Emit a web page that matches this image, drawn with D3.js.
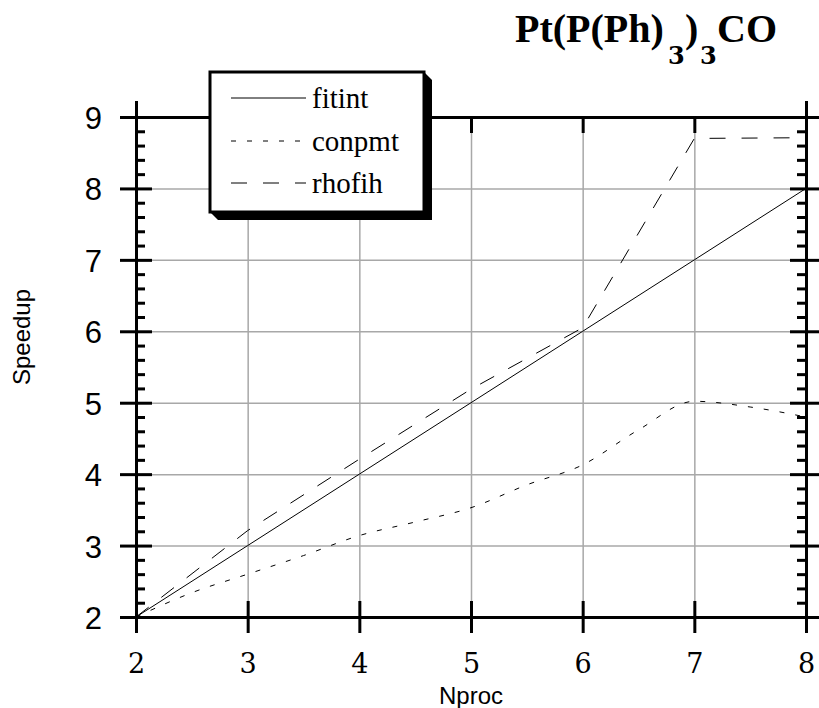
<!DOCTYPE html>
<html><head><meta charset="utf-8">
<script src="https://cdn.jsdelivr.net/npm/d3@7"></script>
<style>body{margin:0;background:#fff} .serif{font-family:"Liberation Serif","Times New Roman",serif} .dserif{font-family:"DejaVu Serif",serif} .sans{font-family:"Liberation Sans",Arial,sans-serif}</style>
</head><body><svg id="c" width="819" height="708"></svg>
<script>
// ---- data ----
const nproc = [2, 3, 4, 5, 6, 7, 8];
const fitint = [2, 3, 4, 5, 6, 7, 8];
const rhofih = [2.0, 3.21, 4.21, 5.19, 6.05, 8.70, 8.71];
const conpmtX = [2, 2.5, 3, 3.5, 4, 4.5, 5, 5.5, 6, 6.5, 7, 7.5, 8];
const conpmt = [2.0, 2.34, 2.60, 2.86, 3.14, 3.33, 3.53, 3.85, 4.13, 4.62, 5.02, 4.94, 4.80];
const xTicks = [2, 3, 4, 5, 6, 7, 8];
const yTicks = [2, 3, 4, 5, 6, 7, 8, 9];
const seriesNames = ["fitint", "conpmt", "rhofih"];

// ---- layout ----
const L = 136, R = 806, T = 117, B = 617;
const svg = d3.select("#c");
svg.append("rect").attr("width", 819).attr("height", 708).attr("fill", "#fff");
const x = d3.scaleLinear().domain([2, 8]).range([L, R]);
const y = d3.scaleLinear().domain([2, 9]).range([B, T]);
const minorY = d3.range(2, 9.001, 0.2).map(v => +v.toFixed(1)).filter(v => Math.abs(v - Math.round(v)) > 1e-6);
const fmt = d3.format("d");

// grid
svg.append("g").attr("transform", `translate(0,${B})`)
  .call(d3.axisBottom(x).tickValues(xTicks.slice(1, -1)).tickSize(-(B - T)).tickFormat(""))
  .call(g => g.select(".domain").remove())
  .selectAll("line").attr("stroke", "#a8a8a8").attr("stroke-width", 1.5);
svg.append("g").attr("transform", `translate(${L},0)`)
  .call(d3.axisLeft(y).tickValues(yTicks.slice(1, -1)).tickSize(-(R - L)).tickFormat(""))
  .call(g => g.select(".domain").remove())
  .selectAll("line").attr("stroke", "#a8a8a8").attr("stroke-width", 1.5);

// series lines
svg.append("path").datum(d3.zip(nproc, fitint))
  .attr("d", d3.line().x(d => x(d[0])).y(d => y(d[1])))
  .attr("fill", "none").attr("stroke", "#000").attr("stroke-width", 1);
svg.append("path").datum(d3.zip(conpmtX, conpmt))
  .attr("d", d3.line().x(d => x(d[0])).y(d => y(d[1])).curve(d3.curveMonotoneX))
  .attr("fill", "none").attr("stroke", "#000").attr("stroke-width", 1).attr("stroke-dasharray", "5,11");
svg.append("path").datum(d3.zip(nproc, rhofih))
  .attr("d", d3.line().x(d => x(d[0])).y(d => y(d[1])))
  .attr("fill", "none").attr("stroke", "#000").attr("stroke-width", 1).attr("stroke-dasharray", "16,16");

// axes
function styleAxis(g) {
  g.select(".domain").attr("stroke", "#000").attr("stroke-width", 3);
  g.selectAll(".tick line").attr("stroke", "#000").attr("stroke-width", 3);
}
// left
const gl = svg.append("g").attr("transform", `translate(${L},0)`)
  .call(d3.axisLeft(y).tickValues(yTicks).tickFormat(fmt).tickSizeOuter(0).tickSize(16).tickPadding(18))
  .call(styleAxis);
gl.attr("font-family", null).attr("font-size", null);
gl.selectAll(".tick line").attr("x1", -16).attr("x2", 16);
gl.selectAll(".tick text").attr("class", "sans").style("font-size", "31px")
  .attr("fill", "#000").attr("dy", "0.37em");
svg.append("g").attr("transform", `translate(${L},0)`)
  .call(d3.axisLeft(y).tickValues(minorY).tickSizeOuter(0).tickSize(-9).tickFormat(""))
  .call(styleAxis).call(g => g.select(".domain").remove());
// right
const gr = svg.append("g").attr("transform", `translate(${R},0)`)
  .call(d3.axisRight(y).tickValues(yTicks).tickSizeOuter(0).tickSize(16).tickFormat(""))
  .call(styleAxis);
gr.selectAll(".tick line").attr("x1", -16).attr("x2", 16);
svg.append("g").attr("transform", `translate(${R},0)`)
  .call(d3.axisRight(y).tickValues(minorY).tickSizeOuter(0).tickSize(-9).tickFormat(""))
  .call(styleAxis).call(g => g.select(".domain").remove());
// bottom
const gb = svg.append("g").attr("transform", `translate(0,${B})`)
  .call(d3.axisBottom(x).tickValues(xTicks).tickFormat(fmt).tickSizeOuter(0).tickSize(16))
  .call(styleAxis);
gb.attr("font-family", null).attr("font-size", null);
gb.selectAll(".tick line").attr("y1", -16).attr("y2", 16);
gb.selectAll(".tick text").attr("class", "dserif").style("font-size", "27px")
  .attr("fill", "#000").attr("y", 56).attr("dy", 0);
// top
const gt = svg.append("g").attr("transform", `translate(0,${T})`)
  .call(d3.axisTop(x).tickValues(xTicks).tickSizeOuter(0).tickSize(-16).tickFormat(""))
  .call(styleAxis);
gt.selectAll(".tick line").filter(d => d === 2 || d === 8).attr("y1", -16).attr("y2", 16);

// axis titles
svg.append("text").attr("class", "sans").attr("x", (L + R) / 2).attr("y", 704).attr("text-anchor", "middle")
  .style("font-size", "24px").text("Nproc");
svg.append("text").attr("class", "sans").attr("transform", "translate(30,337) rotate(-90)").attr("text-anchor", "middle")
  .style("font-size", "24px").text("Speedup");

// title
const title = svg.append("g").attr("font-weight", "bold").attr("fill", "#000");
title.append("text").attr("class", "serif").attr("x", 515).attr("y", 42).style("font-size", "40px").text("Pt(P(Ph)");
title.append("text").attr("class", "dserif").attr("x", 668).attr("y", 64).style("font-size", "24px").text("3");
title.append("text").attr("class", "serif").attr("x", 685).attr("y", 42).style("font-size", "40px").text(")");
title.append("text").attr("class", "dserif").attr("x", 700).attr("y", 64).style("font-size", "24px").text("3");
title.append("text").attr("class", "serif").attr("x", 717).attr("y", 42).style("font-size", "40px").text("CO");

// legend
const lg = svg.append("g");
lg.append("polygon").attr("points", "424,72 432,80 432,220 218,220 210,212").attr("fill", "#000");
lg.append("rect").attr("x", 210).attr("y", 72).attr("width", 214).attr("height", 140)
  .attr("fill", "#fff").attr("stroke", "#000").attr("stroke-width", 3);
const dashes = [null, "5,11", "16,16"];
const rowY = [98, 141, 183];
seriesNames.forEach((name, i) => {
  lg.append("line").attr("x1", 231).attr("x2", 306).attr("y1", rowY[i]).attr("y2", rowY[i])
    .attr("stroke", "#000").attr("stroke-width", 1).attr("stroke-dasharray", dashes[i]);
  lg.append("text").attr("class", "serif").attr("x", 312).attr("y", rowY[i] + 10).style("font-size", "29px")
    .attr("fill", "#000").text(name);
});
</script></body></html>
